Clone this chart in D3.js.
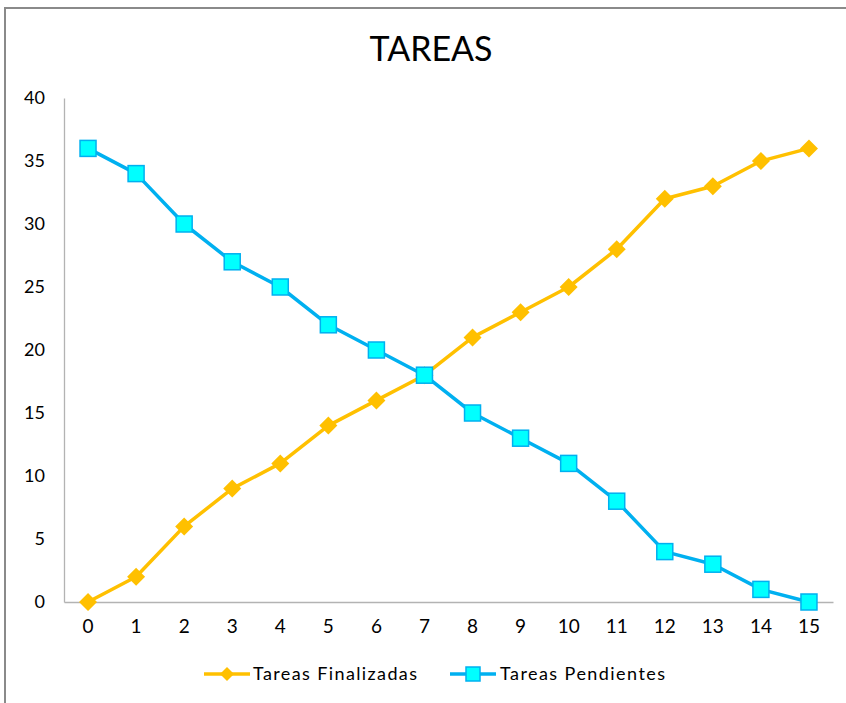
<!DOCTYPE html>
<html><head><meta charset="utf-8">
<script src="https://cdn.jsdelivr.net/npm/d3@7"></script>
<style>body{margin:0;background:#fff}svg{display:block}text{font-family:Lato,"Open Sans",sans-serif;fill:#000}</style>
</head><body>
<svg id="c" width="846" height="703"></svg>
<script>
const categories = [0,1,2,3,4,5,6,7,8,9,10,11,12,13,14,15];
const finalizadas = [0,2,6,9,11,14,16,18,21,23,25,28,32,33,35,36];
const pendientes = [36,34,30,27,25,22,20,18,15,13,11,8,4,3,1,0];
const yTicks = [0,5,10,15,20,25,30,35,40];
const seriesNames = ["Tareas Finalizadas","Tareas Pendientes"];

const svg = d3.select("#c");
svg.append("rect").attr("x",5).attr("y",8).attr("width",860).attr("height",720)
  .attr("fill","none").attr("stroke","#8a8a8a").attr("stroke-width",2);

svg.append("text").attr("x",431).attr("y",61).attr("text-anchor","middle")
  .style("font-size","34px").text("TAREAS");

const L=64,R=833,T=98,B=602;
const x = d3.scaleBand().domain(categories).range([L,R]);
const y = d3.scaleLinear().domain([0,40]).range([B,T]);
const cx = d => x(d)+x.bandwidth()/2;

const yAx = svg.append("g").attr("transform",`translate(${L},0)`)
  .call(d3.axisLeft(y).tickValues(yTicks).tickSize(0).tickPadding(19));
yAx.select(".domain").attr("stroke","#b3b3b3").attr("stroke-width",1.3);
yAx.selectAll("text").style("font-size","18px").style("font-family","Lato,sans-serif");

const xAx = svg.append("g").attr("transform",`translate(0,${B})`)
  .call(d3.axisBottom(x).tickSize(0).tickPadding(18));
xAx.select(".domain").attr("stroke","#b3b3b3").attr("stroke-width",1.3);
xAx.selectAll("text").style("font-size","19px").style("font-family","Lato,sans-serif");

const line = d3.line().x((d,i)=>cx(categories[i])).y(d=>y(d));
svg.append("path").datum(finalizadas).attr("d",line).attr("fill","none")
  .attr("stroke","#FFC000").attr("stroke-width",3.5).attr("stroke-linejoin","round");
svg.append("path").datum(pendientes).attr("d",line).attr("fill","none")
  .attr("stroke","#00B0F0").attr("stroke-width",3.5).attr("stroke-linejoin","round");

const diamond = (px,py,s)=>`M${px},${py-s}L${px+s},${py}L${px},${py+s}L${px-s},${py}Z`;
svg.append("g").selectAll("path").data(finalizadas).join("path")
  .attr("d",(d,i)=>diamond(cx(categories[i]),y(d),9)).attr("fill","#FFC000");
svg.append("g").selectAll("rect").data(pendientes).join("rect")
  .attr("x",(d,i)=>cx(categories[i])-8).attr("y",d=>y(d)-8)
  .attr("width",16).attr("height",16).attr("fill","#00FFFF")
  .attr("stroke","#00B0F0").attr("stroke-width",1.5);

// legend
const lg = svg.append("g");
lg.append("line").attr("x1",204).attr("x2",250).attr("y1",674).attr("y2",674).attr("stroke","#FFC000").attr("stroke-width",3.5);
lg.append("path").attr("d",diamond(227,674,7)).attr("fill","#FFC000");
lg.append("text").attr("x",253).attr("y",680).style("font-size","18px")
  .attr("textLength",164).attr("lengthAdjust","spacing").text(seriesNames[0]);
lg.append("line").attr("x1",450).attr("x2",496).attr("y1",674).attr("y2",674).attr("stroke","#00B0F0").attr("stroke-width",3.5);
lg.append("rect").attr("x",466).attr("y",667).attr("width",14).attr("height",14).attr("fill","#00FFFF").attr("stroke","#00B0F0").attr("stroke-width",1.5);
lg.append("text").attr("x",500).attr("y",680).style("font-size","18px")
  .attr("textLength",165).attr("lengthAdjust","spacing").text(seriesNames[1]);
</script>
</body></html>
